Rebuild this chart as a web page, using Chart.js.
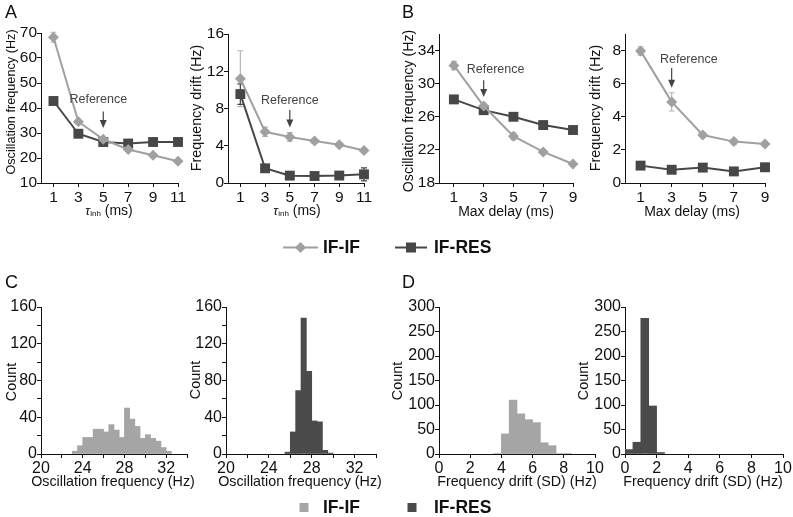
<!DOCTYPE html>
<html>
<head>
<meta charset="utf-8">
<script src="https://cdn.jsdelivr.net/npm/chart.js@4.4.0/dist/chart.umd.min.js"></script>
<style>
  html, body { margin: 0; padding: 0; background: #fff; }
  #wrap { position: relative; width: 793px; height: 517px; overflow: hidden; }
  #wrap canvas { position: absolute; left: 0; top: 0; }
</style>
</head>
<body>
<div id="wrap">
  <canvas id="cA1" width="793" height="517"></canvas>
  <canvas id="cA2" width="793" height="517"></canvas>
  <canvas id="cB1" width="793" height="517"></canvas>
  <canvas id="cB2" width="793" height="517"></canvas>
  <canvas id="cC1" width="793" height="517"></canvas>
  <canvas id="cC2" width="793" height="517"></canvas>
  <canvas id="cD1" width="793" height="517"></canvas>
  <canvas id="cD2" width="793" height="517"></canvas>
</div>
<script>
// ---- data ----
const tauInh = [1, 3, 5, 7, 9, 11];
const maxDelay = [1, 3, 5, 7, 9];

// A: oscillation frequency vs tau_inh
const aFreqIF = [68.3, 34.5, 27.5, 23.4, 21.1, 18.7];
const aFreqIFErr = [2.0, 0.6, 0.4, 0.3, 0.3, 0.3];
const aFreqRES = [42.8, 29.7, 26.4, 25.8, 26.4, 26.4];
const aFreqRESErr = [0.4, 0.3, 0.3, 0.3, 0.3, 0.3];
// A: frequency drift vs tau_inh
const aDriftIF = [11.2, 5.5, 4.95, 4.5, 4.1, 3.5];
const aDriftIFErr = [3.0, 0.5, 0.45, 0.25, 0.2, 0.2];
const aDriftRES = [9.55, 1.58, 0.79, 0.75, 0.8, 0.93];
const aDriftRESErr = [1.1, 0.2, 0.1, 0.1, 0.1, 0.7];

// B: oscillation frequency vs max delay
const bFreqIF = [32.2, 27.3, 23.65, 21.75, 20.3];
const bFreqIFErr = [0.5, 0.3, 0.4, 0.2, 0.2];
const bFreqRES = [28.1, 26.8, 26.0, 25.0, 24.4];
const bFreqRESErr = [0.15, 0.15, 0.15, 0.15, 0.15];
// B: frequency drift vs max delay
const bDriftIF = [7.98, 4.9, 2.9, 2.5, 2.35];
const bDriftIFErr = [0.25, 0.55, 0.15, 0.15, 0.12];
const bDriftRES = [1.05, 0.8, 0.93, 0.7, 0.95];
const bDriftRESErr = [0.1, 0.1, 0.1, 0.12, 0.1];

// C: histograms of oscillation frequency (bin centres, counts)
const cBinsIF = [23.25, 23.75, 24.25, 24.75, 25.25, 25.75, 26.25, 26.75, 27.25, 27.75,
                 28.25, 28.75, 29.25, 29.75, 30.25, 30.75, 31.25, 31.75, 32.25];
const cCountIF = [3, 9, 18, 18, 27, 27, 24, 32, 26, 18, 50, 38, 30, 17, 21, 17, 14, 7, 3];
const cBinsRES = [25.75, 26.25, 26.75, 27.25, 27.75, 28.25, 28.75, 29.25, 29.75];
const cCountRES = [2, 24, 69, 148, 90, 36, 35, 4, 1];

// D: histograms of frequency drift
const dBinsIF = [3.75, 4.25, 4.75, 5.25, 5.75, 6.25, 6.75, 7.25, 7.75, 8.25];
const dCountIF = [1, 41, 110, 82, 70, 64, 23, 17, 1, 1];
const dBinsRES = [0.25, 0.75, 1.25, 1.75, 2.25];
const dCountRES = [9, 24, 277, 98, 3];

// ticks
const aXTicks = [1, 3, 5, 7, 9, 11];
const bXTicks = [1, 3, 5, 7, 9];
const aFreqTicks = [10, 20, 30, 40, 50, 60, 70];
const aDriftTicks = [0, 4, 8, 12, 16];
const bFreqTicks = [18, 22, 26, 30, 34];
const bDriftTicks = [0, 2, 4, 6, 8];
const cXTicks = [20, 22, 24, 26, 28, 30, 32, 34];
const cXLabels = [20, 24, 28, 32];
const cYTicks = [0, 20, 40, 60, 80, 100, 120, 140, 160];
const cYLabels = [0, 40, 80, 120, 160];
const dXTicks = [0, 2, 4, 6, 8, 10];
const dYTicks = [0, 50, 100, 150, 200, 250, 300];

const FONT = '"Liberation Sans", Arial, Helvetica, sans-serif';
const IF_LINE = '#a0a0a0';
const RES_LINE = '#474747';
const IF_BAR = '#a5a5a5';
const RES_BAR = '#4b4b4b';
const YW = 40, XH = 30;

function area(L, T, R, B) {
  return { left: L - YW, top: T, right: 793 - R, bottom: 517 - B - XH };
}

function axis(min, max, ticks, labels, isY, size) {
  return {
    type: 'linear', min: min, max: max, offset: false,
    border: { display: true, color: '#111', width: 1 },
    grid: { display: true, drawOnChartArea: false, drawTicks: true, tickLength: 4, tickColor: '#111', offset: false },
    afterBuildTicks: function (s) { s.ticks = ticks.map(function (v) { return { value: v }; }); },
    afterFit: function (s) { if (isY) s.width = YW; else s.height = XH; },
    ticks: {
      autoSkip: false, maxRotation: 0, padding: isY ? 0 : 1, color: '#111',
      font: { family: FONT, size: size || 15.5 },
      callback: function (v) { return labels.indexOf(v) >= 0 ? String(v) : ''; }
    }
  };
}

function pts(xs, ys) { return xs.map(function (x, i) { return { x: x, y: ys[i] }; }); }

// error bars, titles, annotations, legends
const decor = {
  id: 'decor',
  beforeDatasetsDraw: function (chart) {
    const ctx = chart.ctx, ys = chart.scales.y;
    chart.data.datasets.forEach(function (ds, i) {
      if (!ds.errors) return;
      const meta = chart.getDatasetMeta(i);
      ctx.save();
      ctx.strokeStyle = ds.errColor;
      ctx.lineWidth = 1.2;
      meta.data.forEach(function (pt, j) {
        const v = ds.data[j].y, e = ds.errors[j];
        const y1 = ys.getPixelForValue(v + e), y2 = ys.getPixelForValue(v - e);
        ctx.beginPath();
        ctx.moveTo(pt.x, y1); ctx.lineTo(pt.x, y2);
        ctx.moveTo(pt.x - 3, y1); ctx.lineTo(pt.x + 3, y1);
        ctx.moveTo(pt.x - 3, y2); ctx.lineTo(pt.x + 3, y2);
        ctx.stroke();
      });
      ctx.restore();
    });
  },
  afterDraw: function (chart, args, o) {
    const ctx = chart.ctx;
    ctx.save();
    ctx.fillStyle = '#111';
    if (o.letter) {
      ctx.font = '18px ' + FONT;
      ctx.textAlign = 'left'; ctx.textBaseline = 'middle';
      ctx.fillText(o.letter[0], o.letter[1], o.letter[2]);
    }
    if (o.yTitle) {
      ctx.save();
      ctx.translate(o.yTitle.x, o.yTitle.y);
      ctx.rotate(-Math.PI / 2);
      ctx.font = o.yTitle.size + 'px ' + FONT;
      ctx.textAlign = 'center'; ctx.textBaseline = 'middle';
      ctx.fillText(o.yTitle.text, 0, 0);
      ctx.restore();
    }
    if (o.xTitle) {
      ctx.textBaseline = 'middle';
      if (o.xTitle.tau) {
        const parts = [
          { t: '\u03c4', f: 'italic 13px ' + FONT, dy: 0 },
          { t: 'inh', f: '8px ' + FONT, dy: 3 },
          { t: ' (ms)', f: '14px ' + FONT, dy: 0 }
        ];
        let w = 0;
        parts.forEach(function (p) { ctx.font = p.f; p.w = ctx.measureText(p.t).width; w += p.w; });
        let x = o.xTitle.x - w / 2;
        ctx.textAlign = 'left';
        parts.forEach(function (p) { ctx.font = p.f; ctx.fillText(p.t, x, o.xTitle.y + p.dy); x += p.w; });
      } else {
        ctx.font = (o.xTitle.size || 14) + 'px ' + FONT;
        ctx.textAlign = 'center';
        ctx.fillText(o.xTitle.text, o.xTitle.x, o.xTitle.y);
      }
    }
    if (o.ref) {
      const xs = chart.scales.x, ys = chart.scales.y;
      const tx = xs.getPixelForValue(o.ref.tx), ty = ys.getPixelForValue(o.ref.ty);
      const ax = xs.getPixelForValue(o.ref.ax);
      const a1 = ys.getPixelForValue(o.ref.a1), a2 = ys.getPixelForValue(o.ref.a2);
      ctx.fillStyle = '#444';
      ctx.strokeStyle = '#444';
      ctx.font = '12.5px ' + FONT;
      ctx.textAlign = 'center'; ctx.textBaseline = 'middle';
      ctx.fillText('Reference', tx, ty);
      ctx.lineWidth = 1.2;
      ctx.beginPath(); ctx.moveTo(ax, a1); ctx.lineTo(ax, a2 - 6); ctx.stroke();
      ctx.beginPath(); ctx.moveTo(ax - 3.5, a2 - 8); ctx.lineTo(ax + 3.5, a2 - 8); ctx.lineTo(ax, a2); ctx.closePath(); ctx.fill();
    }
    if (o.legends) {
      ctx.font = 'bold 17.5px ' + FONT;
      ctx.textAlign = 'left'; ctx.textBaseline = 'middle';
      // line legend
      const ly = 247.5;
      ctx.lineWidth = 2;
      ctx.strokeStyle = IF_LINE; ctx.fillStyle = IF_LINE;
      ctx.beginPath(); ctx.moveTo(283, ly); ctx.lineTo(318, ly); ctx.stroke();
      ctx.beginPath(); ctx.moveTo(300.5, ly - 5.5); ctx.lineTo(306, ly); ctx.lineTo(300.5, ly + 5.5); ctx.lineTo(295, ly); ctx.closePath(); ctx.fill();
      ctx.fillStyle = '#111'; ctx.fillText('IF-IF', 323, ly + 1);
      ctx.strokeStyle = RES_LINE; ctx.fillStyle = RES_LINE;
      ctx.beginPath(); ctx.moveTo(395, ly); ctx.lineTo(427, ly); ctx.stroke();
      ctx.fillRect(406, ly - 5, 10, 10);
      ctx.fillStyle = '#111'; ctx.fillText('IF-RES', 434, ly + 1);
      // box legend
      const by = 507.5;
      ctx.fillStyle = IF_BAR; ctx.fillRect(299.5, by - 4.5, 9, 9);
      ctx.fillStyle = '#111'; ctx.fillText('IF-IF', 323, by + 1);
      ctx.fillStyle = RES_BAR; ctx.fillRect(407.5, by - 4.5, 9, 9);
      ctx.fillStyle = '#111'; ctx.fillText('IF-RES', 434, by + 1);
    }
    ctx.restore();
  }
};

function lineSet(label, xs, ys, errs, isIF) {
  return {
    label: label,
    data: pts(xs, ys),
    errors: errs,
    errColor: isIF ? '#b5b5b5' : RES_LINE,
    borderColor: isIF ? IF_LINE : RES_LINE,
    backgroundColor: isIF ? IF_LINE : RES_LINE,
    borderWidth: 2,
    pointStyle: isIF ? 'rectRot' : 'rect',
    pointRadius: isIF ? 5.5 : 7,
    pointBorderWidth: 0,
    pointBackgroundColor: isIF ? IF_LINE : RES_LINE,
    tension: 0,
    clip: false
  };
}

function lineChart(id, pad, xMax, xTicks, yMin, yMax, yTicks, ifSet, resSet, deco) {
  return new Chart(document.getElementById(id), {
    type: 'line',
    data: { datasets: [ifSet, resSet] },
    options: {
      responsive: false, animation: false, events: [],
      layout: { padding: pad },
      plugins: { legend: { display: false }, tooltip: { enabled: false }, decor: deco },
      scales: {
        x: axis(0, xMax, xTicks, xTicks, false),
        y: axis(yMin, yMax, yTicks, yTicks, true)
      }
    },
    plugins: [decor]
  });
}

function histChart(id, pad, xMin, xMax, xTicks, xLabels, yMax, yTicks, yLabels, bins, counts, color, deco) {
  return new Chart(document.getElementById(id), {
    type: 'bar',
    data: {
      datasets: [{
        data: pts(bins, counts),
        backgroundColor: color,
        borderWidth: 0,
        barPercentage: 1,
        categoryPercentage: 1
      }]
    },
    options: {
      responsive: false, animation: false, events: [],
      layout: { padding: pad },
      plugins: { legend: { display: false }, tooltip: { enabled: false }, decor: deco },
      scales: {
        x: axis(xMin, xMax, xTicks, xLabels, false, 16),
        y: axis(0, yMax, yTicks, yLabels, true, 16)
      }
    },
    plugins: [decor]
  });
}

lineChart('cA1', area(41, 33, 178, 183), 11, aXTicks, 10, 70, aFreqTicks,
  lineSet('IF-IF', tauInh, aFreqIF, aFreqIFErr, true),
  lineSet('IF-RES', tauInh, aFreqRES, aFreqRESErr, false),
  { letter: ['A', 5, 13], yTitle: { text: 'Oscillation frequency (Hz)', x: 11, y: 102, size: 12.7 },
    xTitle: { tau: true, x: 109, y: 211 },
    ref: { tx: 4.6, ty: 43.2, ax: 5, a1: 38.6, a2: 32 }, legends: true });

lineChart('cA2', area(228, 34, 364, 183), 11, aXTicks, 0, 16, aDriftTicks,
  lineSet('IF-IF', tauInh, aDriftIF, aDriftIFErr, true),
  lineSet('IF-RES', tauInh, aDriftRES, aDriftRESErr, false),
  { yTitle: { text: 'Frequency drift (Hz)', x: 197, y: 108, size: 14.3 },
    xTitle: { tau: true, x: 297, y: 211 },
    ref: { tx: 5, ty: 8.9, ax: 5, a1: 7.85, a2: 5.95 } });

lineChart('cB1', area(439, 34, 573, 183), 9, bXTicks, 18, 36, bFreqTicks,
  lineSet('IF-IF', maxDelay, bFreqIF, bFreqIFErr, true),
  lineSet('IF-RES', maxDelay, bFreqRES, bFreqRESErr, false),
  { letter: ['B', 402, 13], yTitle: { text: 'Oscillation frequency (Hz)', x: 409, y: 111, size: 14.2 },
    xTitle: { text: 'Max delay (ms)', x: 506, y: 212, size: 14 },
    ref: { tx: 3.8, ty: 31.65, ax: 3, a1: 30.4, a2: 28.4 } });

lineChart('cB2', area(625, 34, 765, 183), 9, bXTicks, 0, 9, bDriftTicks,
  lineSet('IF-IF', maxDelay, bDriftIF, bDriftIFErr, true),
  lineSet('IF-RES', maxDelay, bDriftRES, bDriftRESErr, false),
  { yTitle: { text: 'Frequency drift (Hz)', x: 596, y: 108, size: 14.3 },
    xTitle: { text: 'Max delay (ms)', x: 692, y: 212, size: 14 },
    ref: { tx: 4.1, ty: 7.47, ax: 3, a1: 6.95, a2: 5.75 } });

histChart('cC1', area(41, 307, 187, 454), 20, 34, cXTicks, cXLabels, 160, cYTicks, cYLabels,
  cBinsIF, cCountIF, IF_BAR,
  { letter: ['C', 5, 283], yTitle: { text: 'Count', x: 12.5, y: 382, size: 14.4 },
    xTitle: { text: 'Oscillation frequency (Hz)', x: 113, y: 482, size: 14.3 } });

histChart('cC2', area(226, 307, 376, 454), 20, 34, cXTicks, cXLabels, 160, cYTicks, cYLabels,
  cBinsRES, cCountRES, RES_BAR,
  { yTitle: { text: 'Count', x: 196, y: 380, size: 14.4 },
    xTitle: { text: 'Oscillation frequency (Hz)', x: 300, y: 482, size: 14.3 } });

histChart('cD1', area(439, 307, 595, 454), 0, 10, dXTicks, dXTicks, 300, dYTicks, dYTicks,
  dBinsIF, dCountIF, IF_BAR,
  { letter: ['D', 402, 283], yTitle: { text: 'Count', x: 398.5, y: 381, size: 14.4 },
    xTitle: { text: 'Frequency drift (SD) (Hz)', x: 517, y: 482, size: 14.3 } });

histChart('cD2', area(625, 307, 783, 454), 0, 10, dXTicks, dXTicks, 300, dYTicks, dYTicks,
  dBinsRES, dCountRES, RES_BAR,
  { yTitle: { text: 'Count', x: 584, y: 381, size: 14.4 },
    xTitle: { text: 'Frequency drift (SD) (Hz)', x: 703, y: 482, size: 14.3 } });
</script>
</body>
</html>
